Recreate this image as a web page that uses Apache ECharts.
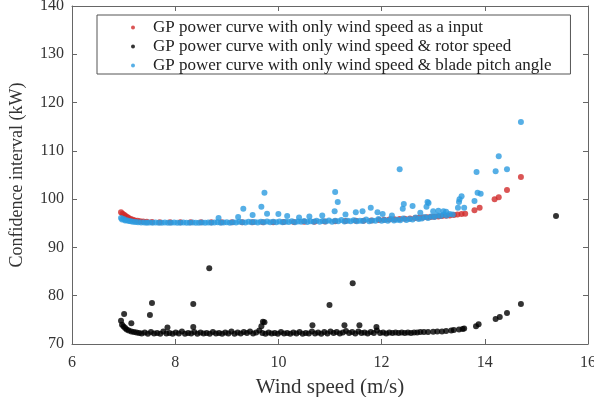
<!DOCTYPE html>
<html>
<head>
<meta charset="utf-8">
<script src="https://cdn.jsdelivr.net/npm/echarts@6/dist/echarts.min.js"></script>
<style>
  html, body { margin: 0; padding: 0; background: #fff; }
  #chart { width: 594px; height: 397px; }
</style>
</head>
<body>
<div id="chart"></div>
<script>
// [wind speed, confidence interval]
const seriesNames = [
  'GP power curve with only wind speed as a input',
  'GP power curve with only wind speed & rotor speed',
  'GP power curve with only wind speed & blade pitch angle'
];

const redPoints = [
  [6.95, 97.3], [6.98, 97.0], [7.01, 96.75], [7.04, 96.5], [7.07, 96.3], [7.1, 96.1], [7.14, 95.9],
  [7.18, 95.75], [7.22, 95.6], [7.27, 95.5], [7.32, 95.4], [7.38, 95.35], [7.45, 95.3], [7.55, 95.25],
  [7.7, 95.2], [7.9, 95.2], [8.1, 95.2], [8.3, 95.2], [8.5, 95.2], [8.7, 95.2], [8.9, 95.2], [9.1, 95.2],
  [9.3, 95.2], [9.5, 95.2], [9.7, 95.2], [9.9, 95.2], [10.1, 95.25], [10.3, 95.25], [10.5, 95.3],
  [10.7, 95.3], [10.9, 95.35], [11.1, 95.4], [11.3, 95.45], [11.5, 95.5], [11.65, 95.55], [11.8, 95.6],
  [11.95, 95.7], [12.05, 95.75], [12.15, 95.8], [12.25, 95.85], [12.35, 95.9], [12.45, 95.95],
  [12.55, 96.0], [12.65, 96.1], [12.72, 96.15], [12.8, 96.2], [12.88, 96.25], [12.95, 96.3],
  [13.02, 96.35], [13.1, 96.4], [13.17, 96.5], [13.25, 96.55], [13.32, 96.6], [13.4, 96.7],
  [13.47, 96.8], [13.55, 96.9], [13.62, 97.0], [13.8, 97.7], [13.9, 98.2], [14.19, 100.0],
  [14.27, 100.4], [14.43, 101.9], [14.7, 104.6]
];

const blackPoints = [
  [6.95, 74.8], [6.97, 74.0], [7.0, 73.6], [7.03, 73.3], [7.06, 73.0], [7.1, 72.8], [7.15, 72.6],
  [7.2, 72.5], [7.25, 72.4], [7.3, 72.3],
  [7.35, 72.2], [7.41, 72.4], [7.47, 72.1], [7.53, 72.5], [7.59, 72.2], [7.65, 72.3], [7.71, 72.1],
  [7.77, 72.6], [7.83, 72.2], [7.89, 72.3], [7.95, 72.1], [8.01, 72.4], [8.07, 72.2], [8.13, 72.6],
  [8.19, 72.1], [8.25, 72.3], [8.31, 72.2], [8.37, 72.5], [8.43, 72.1], [8.49, 72.4], [8.55, 72.2],
  [8.61, 72.3], [8.67, 72.1], [8.73, 72.5], [8.79, 72.2], [8.85, 72.3], [8.91, 72.1], [8.97, 72.4],
  [9.03, 72.2], [9.09, 72.6], [9.15, 72.1], [9.21, 72.4], [9.27, 72.2], [9.33, 72.5], [9.39, 72.3],
  [9.45, 72.6], [9.51, 72.2], [9.57, 72.4], [9.63, 72.8], [9.69, 72.3], [9.75, 72.1], [9.81, 72.4],
  [9.87, 72.2], [9.93, 72.3], [9.99, 72.1], [10.05, 72.5], [10.11, 72.2], [10.17, 72.3], [10.23, 72.1],
  [10.29, 72.4], [10.35, 72.2], [10.41, 72.5], [10.47, 72.1], [10.53, 72.3], [10.59, 72.2],
  [10.65, 72.6], [10.71, 72.2], [10.77, 72.4], [10.83, 72.1], [10.89, 72.5], [10.95, 72.2],
  [11.01, 72.6], [11.07, 72.3], [11.13, 72.5], [11.19, 72.2], [11.25, 72.4], [11.31, 72.7],
  [11.37, 72.3], [11.43, 72.5], [11.49, 72.2], [11.55, 72.6], [11.61, 72.3], [11.67, 72.4],
  [11.73, 72.2], [11.79, 72.5], [11.85, 72.3], [11.91, 72.8], [11.97, 72.3], [12.03, 72.4],
  [12.09, 72.2], [12.15, 72.4], [12.21, 72.3], [12.27, 72.4], [12.33, 72.3], [12.39, 72.4],
  [12.45, 72.3], [12.51, 72.4], [12.57, 72.3], [12.63, 72.4], [12.69, 72.4], [12.75, 72.5],
  [12.82, 72.5], [12.9, 72.5], [13.0, 72.55], [13.08, 72.6], [13.17, 72.6], [13.25, 72.7],
  [13.35, 72.8], [13.4, 72.9], [13.5, 73.0], [13.57, 73.1], [13.6, 73.2],
  [13.83, 73.7], [13.88, 74.1], [14.21, 75.2], [14.29, 75.6], [14.43, 76.4], [14.7, 78.3], [15.38, 96.5],
  // outliers
  [7.01, 76.2], [7.15, 74.3], [7.51, 76.0], [7.55, 78.5], [7.85, 73.4], [8.35, 78.3], [8.35, 73.5],
  [8.66, 85.7], [9.67, 73.7], [9.7, 74.6], [9.73, 74.5], [10.66, 73.9], [10.99, 78.1], [11.28, 73.9],
  [11.44, 82.6], [11.57, 73.9], [11.9, 73.5]
];

const bluePoints = [
  [6.95, 96.1], [6.97, 95.8], [7.0, 95.9], [7.03, 95.6], [7.06, 95.65], [7.1, 95.45], [7.14, 95.4],
  [7.18, 95.3], [7.23, 95.25], [7.28, 95.2], [7.34, 95.15], [7.4, 95.15], [7.45, 95.1],
  [7.5, 95.15], [7.56, 95.1], [7.62, 95.15], [7.68, 95.1], [7.74, 95.1], [7.8, 95.15], [7.86, 95.1],
  [7.92, 95.1], [7.98, 95.15], [8.04, 95.1], [8.1, 95.1], [8.16, 95.15], [8.22, 95.1], [8.28, 95.1],
  [8.34, 95.15], [8.4, 95.1], [8.46, 95.1], [8.52, 95.15], [8.58, 95.1], [8.64, 95.15], [8.7, 95.1],
  [8.76, 95.15], [8.82, 95.2], [8.88, 95.1], [8.94, 95.15], [9.0, 95.2], [9.06, 95.1], [9.12, 95.2],
  [9.18, 95.15], [9.24, 95.3], [9.3, 95.2], [9.36, 95.15], [9.42, 95.3], [9.48, 95.2], [9.54, 95.25],
  [9.6, 95.15], [9.66, 95.3], [9.72, 95.2], [9.78, 95.35], [9.84, 95.2], [9.9, 95.3], [9.96, 95.2],
  [10.02, 95.35], [10.08, 95.2], [10.14, 95.3], [10.2, 95.25], [10.26, 95.4], [10.32, 95.2],
  [10.38, 95.35], [10.44, 95.3], [10.5, 95.45], [10.56, 95.25], [10.62, 95.4], [10.68, 95.3],
  [10.74, 95.5], [10.8, 95.3], [10.86, 95.45], [10.92, 95.35], [10.98, 95.6], [11.04, 95.3],
  [11.1, 95.5], [11.16, 95.4], [11.22, 95.7], [11.28, 95.35], [11.34, 95.5], [11.4, 95.4],
  [11.46, 95.65], [11.52, 95.4], [11.58, 95.55], [11.64, 95.45], [11.7, 95.8], [11.76, 95.4],
  [11.82, 95.6], [11.88, 95.5], [11.94, 95.9], [12.0, 95.5], [12.06, 95.7], [12.12, 95.55],
  [12.18, 95.9], [12.24, 95.6], [12.3, 95.75], [12.36, 95.65], [12.42, 96.0], [12.48, 95.7],
  [12.54, 95.9], [12.6, 95.8], [12.66, 96.2], [12.72, 95.9], [12.78, 96.0], [12.84, 96.3],
  [12.9, 96.1], [12.96, 96.4], [13.02, 96.3], [13.08, 96.6], [13.14, 96.5], [13.2, 96.8],
  [13.26, 96.6], [13.32, 96.9], [13.38, 96.8],
  // scattered points above the band
  [8.84, 96.1], [9.22, 96.3], [9.32, 98.0], [9.5, 96.7], [9.67, 98.4], [9.73, 101.3], [9.78, 97.0],
  [10.0, 96.9], [10.17, 96.5], [10.4, 96.2], [10.6, 96.4], [10.85, 96.6], [11.1, 101.5], [11.15, 99.4],
  [11.09, 97.5], [11.3, 96.8], [11.5, 97.3], [11.63, 97.5], [11.79, 98.2], [11.92, 97.3], [12.02, 96.9],
  [12.2, 96.6], [12.35, 106.2], [12.43, 99.0], [12.41, 98.0], [12.6, 98.6], [12.75, 97.2], [12.87, 98.4],
  [12.89, 99.4], [12.91, 99.2], [13.0, 97.5], [13.1, 97.6], [13.2, 97.5], [13.25, 97.4], [13.48, 98.2],
  [13.5, 99.4], [13.51, 100.0], [13.55, 100.6], [13.6, 98.2], [13.8, 99.6], [13.84, 105.6],
  [13.86, 101.3], [13.92, 101.1], [14.21, 105.8], [14.27, 108.9], [14.43, 106.2], [14.7, 116.0]
];

const FONT = '"Liberation Serif", "DejaVu Serif", serif';
const TEXT = '#333';
const LINE = '#666';

const chart = echarts.init(document.getElementById('chart'), null, { renderer: 'canvas' });

const frameAxis = (extra) => Object.assign({
  type: 'value',
  axisLine: { show: true, lineStyle: { color: LINE, width: 1 } },
  axisTick: { show: true, inside: true, length: 5, lineStyle: { color: LINE } },
  splitLine: { show: false }
}, extra);

chart.setOption({
  animation: false,
  backgroundColor: '#fff',
  grid: { left: 72, right: 6, top: 6, bottom: 53, outerBoundsMode: 'none', containLabel: false },
  legend: {
    orient: 'vertical',
    left: 97,
    top: 15,
    padding: [4, 19, 0, 34],
    itemGap: 2,
    itemWidth: 4,
    itemHeight: 4,
    icon: 'circle',
    borderColor: '#555',
    borderWidth: 1,
    textStyle: { fontFamily: FONT, fontSize: 17, color: '#222', padding: [0, 0, 0, 13] },
    data: seriesNames
  },
  xAxis: [
    frameAxis({
      min: 6, max: 16, interval: 2,
      name: 'Wind speed (m/s)',
      nameLocation: 'middle',
      nameGap: 33,
      nameTextStyle: { fontFamily: FONT, fontSize: 21, color: TEXT },
      axisLabel: { fontFamily: FONT, fontSize: 16, color: TEXT, margin: 11 }
    }),
    frameAxis({ min: 6, max: 16, interval: 2, position: 'top', axisLabel: { show: false } })
  ],
  yAxis: [
    frameAxis({
      min: 70, max: 140, interval: 10,
      name: 'Confidence interval (kW)',
      nameLocation: 'middle',
      nameGap: 46,
      nameTextStyle: { fontFamily: FONT, fontSize: 18, color: TEXT },
      axisLabel: { fontFamily: FONT, fontSize: 16, color: TEXT, margin: 8 }
    }),
    frameAxis({ min: 70, max: 140, interval: 10, position: 'right', axisLabel: { show: false } })
  ],
  series: [
    {
      name: seriesNames[0], type: 'scatter', data: redPoints, symbolSize: 6,
      itemStyle: { color: '#d12a2a' }, z: 2
    },
    {
      name: seriesNames[1], type: 'scatter', data: blackPoints, symbolSize: 6,
      itemStyle: { color: '#000' }, z: 3
    },
    {
      name: seriesNames[2], type: 'scatter', data: bluePoints, symbolSize: 6,
      itemStyle: { color: '#2c9be0' }, z: 4
    }
  ]
});
</script>
</body>
</html>
